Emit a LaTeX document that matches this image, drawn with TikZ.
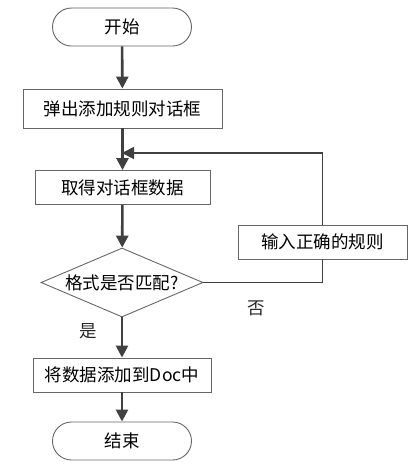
\documentclass[tikz,border=0pt]{standalone}
\usepackage{fontspec}
\setmainfont{Noto Sans CJK SC}
\usetikzlibrary{arrows.meta}
\usetikzlibrary{shapes.geometric}

\begin{document}
\begin{tikzpicture}[x=1pt,y=-1pt,
    font=\fontsize{17.5}{20}\selectfont,
    line/.style={draw=black!75,line width=2.6pt,-{Triangle[length=12pt,width=12pt]}},
    loop/.style={draw=black!75,line width=1.8pt},
    proc/.style={draw=black!60,line width=0.9pt,rectangle,minimum height=34pt,inner sep=0pt},
    term/.style={draw=black!60,line width=0.9pt,rectangle,rounded corners=19pt,minimum width=139pt,minimum height=38pt},
    decide/.style={draw=black!60,line width=0.9pt,diamond,aspect=2.35,inner sep=0pt,minimum width=162pt,minimum height=69pt}]
            \useasboundingbox (0,0) rectangle (417,467);
            \node[term] (start) at (122,27) {开始};
            \node[proc,minimum width=199pt,minimum height=39pt] (popup) at (122.5,108.5) {弹出添加规则对话框};
            \node[proc,minimum width=175pt] (fetch) at (122.5,187.5) {取得对话框数据};
            \node[decide] (check) at (122,282.5) {格式是否匹配?};
            \node[proc,minimum width=169pt] (rule) at (322.5,242) {输入正确的规则};
            \node[proc,minimum width=178pt] (add) at (122,375) {将数据添加到Doc中};
            \node[term] (stop) at (122,441) {结束};
            \coordinate (back) at (122,153);
            \draw[line] (start) -- (popup);
            \draw[line] (popup) -- (fetch);
            \draw[line] (fetch) -- (check);
            \draw[line] (check) -- node[pos=0.35,left=20pt,black!85] {是} (add);
            \draw[loop] (check.east) -| node[pos=0.22,below=14pt,black!85] {否} (rule.south);
            \draw[loop,-{Triangle[length=12pt,width=12pt]}] (rule.north) |- (back);
            \draw[line] (add) -- (stop);
        \end{tikzpicture}
\end{document}
